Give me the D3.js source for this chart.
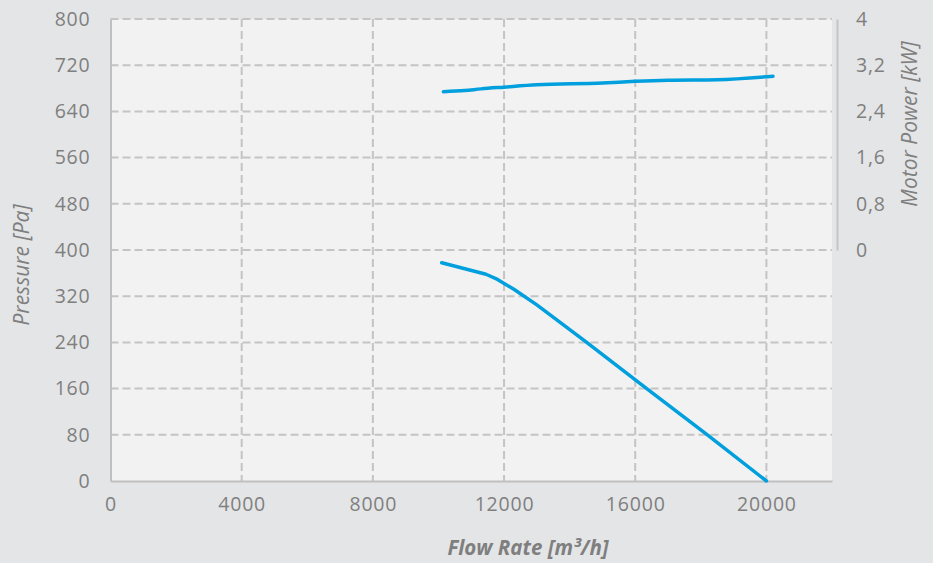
<!DOCTYPE html>
<html><head><meta charset="utf-8">
<script src="https://cdn.jsdelivr.net/npm/d3@7"></script>
<style>
html,body{margin:0;padding:0;background:#e4e5e7;}
svg{display:block;font-family:"Open Sans","Noto Sans",sans-serif;}
</style></head>
<body>
<svg id="c" width="933" height="563"></svg>
<script>
const xTicks = [0, 4000, 8000, 12000, 16000, 20000];
const pressureTicks = [0, 80, 160, 240, 320, 400, 480, 560, 640, 720, 800];
const powerTicks = [0, 0.8, 1.6, 2.4, 3.2, 4];
const powerTickLabels = ["0", "0,8", "1,6", "2,4", "3,2", "4"];
const pressureFlow = [10100, 11450, 11800, 12300, 13000, 14500, 16350, 18200, 20000];
const pressureValues = [378, 358, 349, 332, 305, 241, 160, 80, 0];
const powerFlow = [10150, 10800, 11300, 12000, 13000, 15000, 16000, 17000, 18500, 20200];
const powerValues = [2.74, 2.76, 2.79, 2.82, 2.86, 2.89, 2.92, 2.94, 2.95, 3.01];
const xTitle = "Flow Rate [m³/h]";
const yTitle = "Pressure [Pa]";
const y2Title = "Motor Power [kW]";

const FONT = '"Open Sans","Noto Sans",sans-serif';
const svg = d3.select("#c");
const L = 110.5, R = 832, T = 19, B = 481;
const x = d3.scaleLinear().domain([0, 22000]).range([L, R]);
const y = d3.scaleLinear().domain([0, 800]).range([B, T]);
const y2 = d3.scaleLinear().domain([0, 4]).range([y(400), T]);
const txt = "#7f7f7f", grid = "#c4c4c4", blue = "#009fdd";

svg.append("rect").attr("x", L).attr("y", T).attr("width", R - L).attr("height", B - T).attr("fill", "#f2f2f2");

// grid
svg.append("g").selectAll("line").data(pressureTicks.filter(d => d > 0)).join("line")
  .attr("x1", L).attr("x2", R).attr("y1", d => y(d)).attr("y2", d => y(d))
  .attr("stroke", grid).attr("stroke-width", 2).attr("stroke-dasharray", "8,4");
svg.append("g").selectAll("line").data(xTicks.filter(d => d > 0)).join("line")
  .attr("x1", d => x(d)).attr("x2", d => x(d)).attr("y1", T).attr("y2", B)
  .attr("stroke", grid).attr("stroke-width", 2).attr("stroke-dasharray", "8,4");

// axes
const xAxis = svg.append("g").attr("transform", `translate(0,${B})`)
  .call(d3.axisBottom(x).tickValues(xTicks).tickSize(0).tickPadding(16).tickFormat(d3.format("d")));
const yAxis = svg.append("g").attr("transform", `translate(${L},0)`)
  .call(d3.axisLeft(y).tickValues(pressureTicks).tickSize(0).tickPadding(20).tickFormat(d3.format("d")));
const y2Axis = svg.append("g").attr("transform", `translate(837,0)`)
  .call(d3.axisRight(y2).tickValues(powerTicks).tickSize(0).tickPadding(19).tickFormat((d, i) => powerTickLabels[i]));
[xAxis, yAxis, y2Axis].forEach(g => {
  g.attr("font-family", FONT).attr("font-size", 19.5);
  g.select(".domain").attr("stroke", "#c0c0c0").attr("stroke-width", 2);
  g.selectAll("text").attr("fill", txt).attr("letter-spacing", 0.8);
});
y2Axis.select(".domain").attr("stroke", "#c4c4c4");

// titles
svg.append("text").attr("x", 528).attr("y", 555).attr("text-anchor", "middle").attr("font-family", FONT)
  .attr("font-size", 20.5).attr("font-weight", "bold").attr("font-style", "italic").attr("fill", txt).text(xTitle);
svg.append("text").attr("transform", `translate(29,${265}) rotate(-90)`).attr("text-anchor", "middle").attr("font-family", FONT)
  .attr("font-size", 21).attr("font-style", "italic").attr("fill", txt).text(yTitle);
svg.append("text").attr("transform", `translate(917,${124}) rotate(-90)`).attr("text-anchor", "middle").attr("font-family", FONT)
  .attr("font-size", 21).attr("font-style", "italic").attr("fill", txt).text(y2Title);

// lines
const pData = pressureFlow.map((f, i) => [f, pressureValues[i]]);
const wData = powerFlow.map((f, i) => [f, powerValues[i]]);
svg.append("path").datum(pData)
  .attr("d", d3.line().x(d => x(d[0])).y(d => y(d[1])))
  .attr("fill", "none").attr("stroke", blue).attr("stroke-width", 3.5).attr("stroke-linecap", "round").attr("stroke-linejoin", "round");
svg.append("path").datum(wData)
  .attr("d", d3.line().x(d => x(d[0])).y(d => y2(d[1])).curve(d3.curveMonotoneX))
  .attr("fill", "none").attr("stroke", blue).attr("stroke-width", 3.5).attr("stroke-linecap", "round");
</script>
</body></html>
